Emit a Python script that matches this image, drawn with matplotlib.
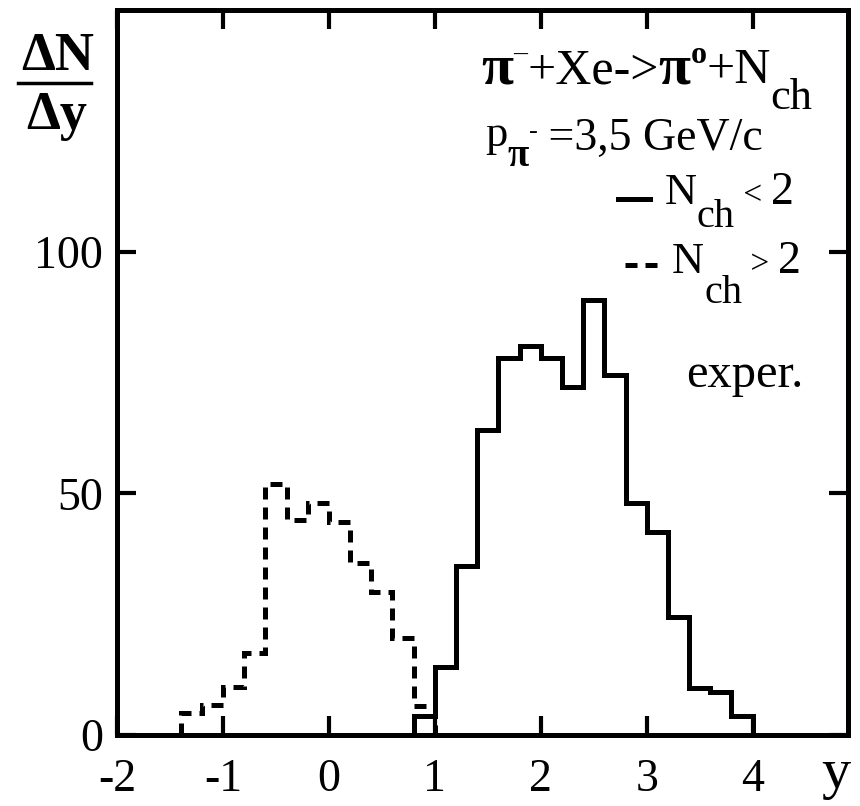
import matplotlib
matplotlib.use('Agg')
import matplotlib.pyplot as plt
from matplotlib.lines import Line2D

plt.rcParams['font.family'] = ['Liberation Serif', 'DejaVu Serif']

# N_ch > 2 (dashed)
edges_many = [-1.4, -1.2, -1.0, -0.8, -0.6, -0.4, -0.2, 0.0, 0.2, 0.4, 0.6, 0.8, 1.0]
counts_many = [4.5, 6.2, 10, 17, 52, 44.5, 48, 44, 35.5, 29.5, 20, 6]

# N_ch < 2 (solid)
edges_few = [0.8, 1.0, 1.2, 1.4, 1.6, 1.8, 2.0, 2.2, 2.4, 2.6, 2.8, 3.0, 3.2, 3.4, 3.6, 3.8, 4.0]
counts_few = [4, 14, 35, 63, 78, 80.5, 78, 72, 90, 74.5, 48, 42, 24.5, 9.7, 9, 4]

xticks = [-2, -1, 0, 1, 2, 3, 4]
xticklabels = ['-2', '-1', '0', '1', '2', '3', '4']
yticks = [0, 50, 100]
yticklabels = ['0', '50', '100']

W, H = 860, 806
fig = plt.figure(figsize=(W / 100, H / 100), dpi=100)
renderer = fig.canvas.get_renderer()


def px(x, y):
    return x / W, 1 - y / H


def run(x, y, pieces):
    # lay text pieces left to right: (string, size, vertical offset in px, weight)
    for s, size, dy, weight in pieces:
        t = fig.text(*px(x, y + dy), s, fontsize=size, fontweight=weight, va='baseline')
        x += t.get_window_extent(renderer).width


ax = fig.add_axes([117 / W, 71 / H, (848 - 117) / W, (735 - 10) / H])
lw = 3.6
dash = (0, (2.4, 1.6))

ax.stairs(counts_many, edges_many, baseline=0, color='black', lw=lw, linestyle=dash)
ax.stairs(counts_few, edges_few, baseline=0, color='black', lw=lw)

ax.set_xlim(-2, 4.9)
ax.set_ylim(0, 150)
ax.set_xticks(xticks)
ax.set_xticklabels(xticklabels)
ax.set_yticks(yticks)
ax.set_yticklabels(yticklabels)
for s in ax.spines.values():
    s.set_linewidth(lw)
ax.tick_params(direction='in', length=14, width=3, top=True, right=True,
               labelsize=33)
ax.tick_params(axis='x', pad=17)
ax.tick_params(axis='y', pad=10)

# y-axis label as a fraction
fig.text(*px(58, 70), '\u0394N', fontsize=39, fontweight='bold', ha='center', va='baseline')
fig.text(*px(57, 129), '\u0394y', fontsize=39, fontweight='bold', ha='center', va='baseline')
fig.add_artist(Line2D([18 / W, 91 / W], [1 - 83 / H, 1 - 83 / H], color='black', lw=2.5))

# x-axis label
fig.text(*px(836, 788), 'y', fontsize=42, ha='center', va='baseline')

# annotation block
run(481, 83, [('\u03c0', 42, 0, 'bold'), ('\u2013', 20, -22, 'normal'),
              ('+Xe->', 36, 0, 'normal'), ('\u03c0', 42, 0, 'bold'),
              ('o', 23, -20, 'bold'), ('+N', 36, 0, 'normal'),
              ('ch', 32, 26, 'normal')])
run(485, 146, [('p', 32, 0, 'normal'), ('\u03c0', 28, 20, 'bold'),
               ('-', 19, -8, 'normal'), (' =3,5 GeV/c', 33, 4, 'normal')])
run(665, 204, [('N', 32, 0, 'normal'), ('ch', 29, 23, 'normal'),
               (' < ', 24, 0, 'normal'), ('2', 33, 0, 'normal')])
run(672, 273, [('N', 32, 0, 'normal'), ('ch', 29, 30, 'normal'),
               (' > ', 24, 0, 'normal'), ('2', 33, 0, 'normal')])
fig.text(*px(686, 387), 'exper.', fontsize=35, va='baseline')
fig.add_artist(Line2D([618 / W, 650 / W], [1 - 199 / H, 1 - 199 / H], color='black', lw=lw))
fig.add_artist(Line2D([625 / W, 658 / W], [1 - 265 / H, 1 - 265 / H], color='black', lw=lw,
                      linestyle=dash))

fig.savefig('out.png', dpi=100)
